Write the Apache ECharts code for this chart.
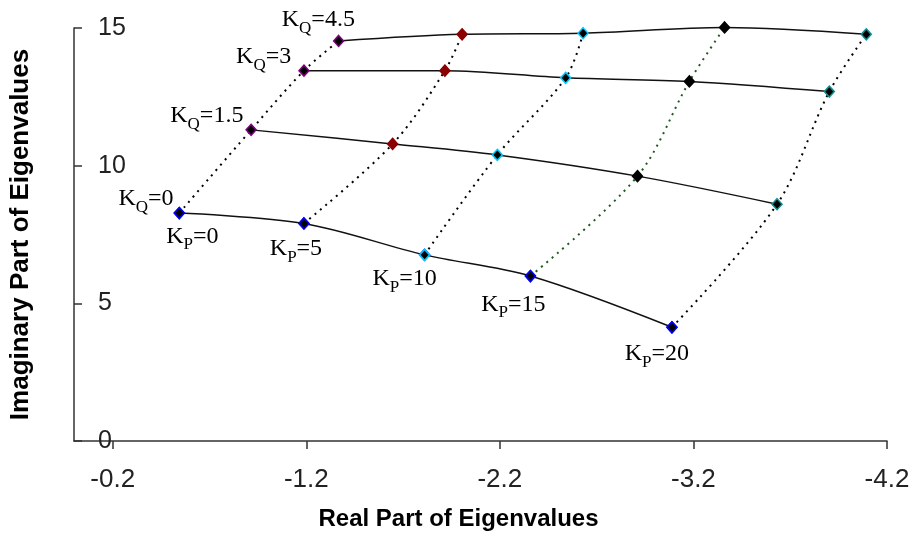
<!DOCTYPE html>
<html>
<head>
<meta charset="utf-8">
<script src="https://cdn.jsdelivr.net/npm/echarts@6/dist/echarts.min.js"></script>
<style>
  html, body { margin: 0; padding: 0; background: #fff; }
  #chart { width: 913px; height: 544px; }
</style>
</head>
<body>
<div id="chart"></div>
<script>
// gains
const kpValues = [0, 5, 10, 15, 20];
const kqValues = [0, 1.5, 3, 4.5];

// eigenvalues, one row per Kq, one entry per Kp
const reKq0 = [-0.544, -1.188, -1.811, -2.358, -3.089];
const imKq0 = [8.28, 7.90, 6.76, 5.99, 4.13];
const reKq15 = [-0.915, -1.646, -2.187, -2.911, -3.632];
const imKq15 = [11.30, 10.79, 10.39, 9.62, 8.60];
const reKq3 = [-1.188, -1.916, -2.540, -3.179, -3.902];
const imKq3 = [13.45, 13.45, 13.19, 13.06, 12.69];
const reKq45 = [-1.367, -2.005, -2.630, -3.361, -4.093];
const imKq45 = [14.53, 14.77, 14.81, 15.02, 14.77];

const xTicks = [-0.2, -1.2, -2.2, -3.2, -4.2];

const reRows = [reKq0, reKq15, reKq3, reKq45];
const imRows = [imKq0, imKq15, imKq3, imKq45];

// marker colour per Kp column (border), fill
const colBorder = ['#800080', '#8b0000', '#00c8ff', '#000000', '#109090'];
const colFill = ['#000000', '#8b0000', '#000000', '#000000', '#000000'];
const colLine = ['#000', '#000', '#000', '#1f5a1f', '#000'];

// label placement (offsets from the point)
const kqLabelOffset = [[5, -14], [3, -14], [-2, -14], [27, -21]];
const kpLabelOffset = [[13, 0], [-8, 2], [-20, 1], [-17, 5], [-15, 3]];

const rich = {
    k: { fontFamily: 'Liberation Serif', fontSize: 24, color: '#000', lineHeight: 24, verticalAlign: 'top' },
    s: { fontFamily: 'Liberation Serif', fontSize: 17, color: '#000', lineHeight: 17, padding: [12, 0, 0, 0], verticalAlign: 'top' }
};

const chart = echarts.init(document.getElementById('chart'), null, { renderer: 'canvas' });

const series = [];

// solid lines: constant Kq, Kp varying
reRows.forEach(function (re, r) {
    const data = re.map(function (x, c) {
        const item = { value: [x, imRows[r][c]] };
        if (r === 0) {
            item.itemStyle = {
                color: '#000',
                borderColor: c === 2 ? '#00c8ff' : '#0000ff',
                borderWidth: 1.5
            };
            item.label = {
                show: true,
                position: 'bottom',
                offset: kpLabelOffset[c],
                formatter: '{k|K}{s|P}{k|=' + kpValues[c] + '}',
                rich: rich
            };
        }
        return item;
    });
    series.push({
        type: 'line',
        data: data,
        smooth: 0.33,
        clip: false,
        z: r === 0 ? 4 : 2,
        symbol: r === 0 ? 'diamond' : 'none',
        symbolSize: [10, 11],
        showAllSymbol: true,
        lineStyle: { color: '#111', width: 1.5 }
    });
});

// dotted lines: constant Kp, Kq varying
kpValues.forEach(function (kp, c) {
    const data = kqValues.map(function (kq, r) {
        const item = {
            value: [reRows[r][c], imRows[r][c]],
            itemStyle: { color: colFill[c], borderColor: colBorder[c], borderWidth: 1.5 }
        };
        if (r === 0) {
            item.itemStyle = { color: '#000', borderColor: '#0000ff', borderWidth: 1.5 };
        }
        if (c === 0) {
            item.label = {
                show: true,
                position: 'left',
                align: 'right',
                offset: kqLabelOffset[r],
                formatter: '{k|K}{s|Q}{k|=' + kq + '}',
                rich: rich
            };
        }
        return item;
    });
    series.push({
        type: 'line',
        data: data,
        smooth: 0.33,
        clip: false,
        z: 3,
        symbol: 'diamond',
        symbolSize: [10, 11],
        showAllSymbol: true,
        lineStyle: { color: colLine[c], width: 2, type: [2, 5] }
    });
});

const option = {
    backgroundColor: '#fff',
    animation: false,
    grid: { left: 73, right: 26, top: 28, bottom: 103 },
    xAxis: {
        type: 'value',
        min: -4.2,
        max: 0,
        inverse: true,
        name: 'Real Part of Eigenvalues',
        nameLocation: 'middle',
        nameGap: 66,
        nameTextStyle: {
            fontFamily: 'Liberation Sans', fontWeight: 'bold', fontSize: 24, color: '#000',
            padding: [0, 44, 0, 0]
        },
        axisLine: { lineStyle: { color: '#333', width: 1.5 } },
        axisTick: { show: true, length: 8, customValues: xTicks, lineStyle: { color: '#333', width: 1.5 } },
        axisLabel: {
            customValues: xTicks,
            margin: 26,
            fontFamily: 'Liberation Sans',
            fontSize: 26,
            color: '#222',
            showMinLabel: true,
            showMaxLabel: true,
            formatter: function (v) { return v.toFixed(1); }
        },
        splitLine: { show: false }
    },
    yAxis: {
        type: 'value',
        min: 0,
        max: 15,
        interval: 5,
        name: 'Imaginary Part of Eigenvalues',
        nameLocation: 'middle',
        nameGap: 40,
        nameTextStyle: { fontFamily: 'Liberation Sans', fontWeight: 'bold', fontSize: 26, color: '#000' },
        axisLine: { show: true, lineStyle: { color: '#333', width: 1.5 } },
        axisTick: { show: true, inside: true, length: 8, lineStyle: { color: '#333', width: 1.5 } },
        axisLabel: {
            inside: true,
            margin: 24,
            fontFamily: 'Liberation Sans',
            fontSize: 25,
            color: '#222'
        },
        splitLine: { show: false }
    },
    series: series
};

chart.setOption(option);

window.addEventListener('resize', function () {
    chart.resize();
});
</script>
</body>
</html>
